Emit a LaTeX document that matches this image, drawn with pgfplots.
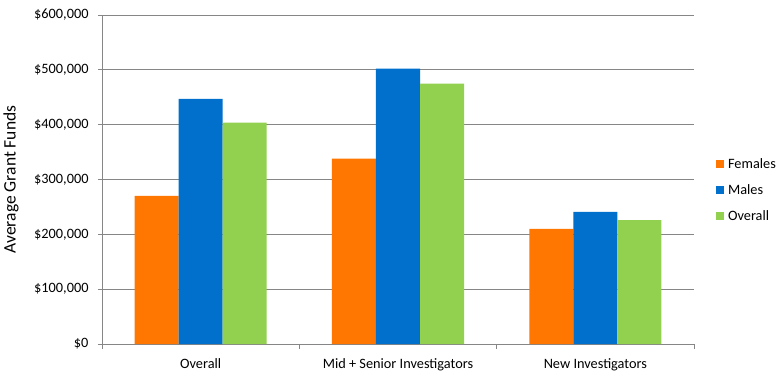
\documentclass[border=0pt]{standalone}
\usepackage{pgfplots}
\pgfplotsset{compat=1.18}
\usepackage{fontspec}
\setmainfont{Carlito}
\definecolor{cfem}{RGB}{255,119,0}
\definecolor{cmale}{RGB}{0,112,204}
\definecolor{cover}{RGB}{146,208,80}
\definecolor{cgrid}{RGB}{134,134,134}
\begin{document}
\begin{tikzpicture}
\useasboundingbox (-102bp,-40bp) rectangle (681bp,344bp);
\begin{axis}[
  scale only axis, width=592bp, height=329bp,
  xmin=-0.5, xmax=2.5, ymin=0, ymax=600000,
  scaled y ticks=false,
  ybar=0pt, bar width=0.223,
  axis x line*=bottom, axis y line*=left,
  axis line style={cgrid, line width=0.8bp},
  ymajorgrids, grid style={cgrid, line width=0.8bp},
  tick align=outside,
  major tick length=4bp,
  minor tick length=5bp,
  xtick={0,1,2},
  xticklabels={Overall, Mid + Senior Investigators, New Investigators},
  minor xtick={-0.5,0.5,1.5,2.5},
  major x tick style={draw=none},
  minor x tick style={draw=cgrid, line width=0.8bp},
  y tick style={draw=cgrid, line width=0.8bp},
  ytick={0,100000,200000,300000,400000,500000,600000},
  yticklabels={{\$0},{\$100,000},{\$200,000},{\$300,000},{\$400,000},{\$500,000},{\$600,000}},
  tick label style={font=\fontsize{14.3bp}{17bp}\selectfont},
  xticklabel style={yshift=-7bp},
  yticklabel style={xshift=-6bp},
  every axis y label/.style={at={(axis description cs:-0.1537,0.5)}, rotate=90, anchor=center, font=\fontsize{17.5bp}{20bp}\selectfont},
  ylabel={Average Grant Funds},
  legend style={at={(1.037,0.468)}, anchor=west, draw=none, fill=none,
    font=\fontsize{14.3bp}{17bp}\selectfont, row sep=14.5bp, inner sep=0pt,
    /tikz/every even column/.style={column sep=0pt},
    nodes={inner xsep=4bp, inner ysep=0pt}},
  legend cell align=left,
  legend image code/.code={\fill[#1,draw=none] (0bp,-4bp) rectangle (8bp,4bp);},
]
\addplot[fill=cfem, draw=none] coordinates {(0,270000) (1,338000) (2,210000)};
\addplot[fill=cmale, draw=none] coordinates {(0,447000) (1,502000) (2,241000)};
\addplot[fill=cover, draw=none] coordinates {(0,403500) (1,475000) (2,226000)};
\legend{Females, Males, Overall}
\end{axis}
\end{tikzpicture}
\end{document}
